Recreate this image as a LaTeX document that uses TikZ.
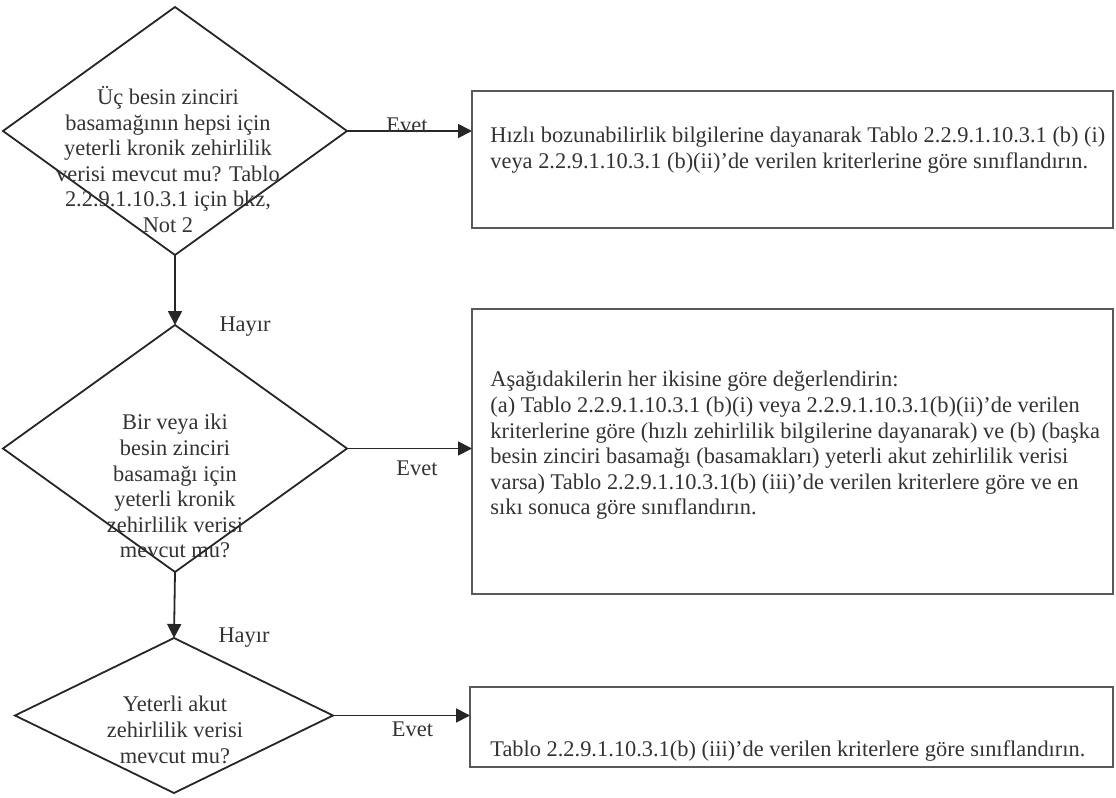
\documentclass[tikz,border=0pt]{standalone}
\usepackage{fontspec}
\setmainfont{Liberation Serif}
\usepackage{tikz}
\usetikzlibrary{arrows.meta}
\usetikzlibrary{positioning,shapes.geometric}
\tikzset{
    decision/.style={
        draw=black!85,
        diamond,
        line width=0.9pt,
        inner sep=0pt,
        outer sep=0pt
    },
    result/.style={
        draw=black!65,
        rectangle,
        line width=1.3pt,
        inner sep=0pt,
        outer sep=0pt
    },
    qtext/.style={align=center, inner sep=0pt},
    rtext/.style={align=left, inner sep=0pt},
    arr/.style={
        draw=black!85,
        -{Triangle[length=7pt, width=7pt]},
        line width=0.9pt
    }
}

\begin{document}
\begin{tikzpicture}[x=0.5pt, y=-0.5pt,
    every node/.style={font=\fontsize{11.2}{12.8}\selectfont, text=black!80}]
    \useasboundingbox (0,0) rectangle (1116,798);
    % Decisions
    \node[decision, minimum width=172pt, minimum height=124pt] (d1) at (175,131) {};
    \node[decision, minimum width=172pt, minimum height=123.5pt] (d2) at (175,448.5) {};
    \node[decision, minimum width=159pt, minimum height=77.5pt] (d3) at (174,715.5) {};
    \node[qtext, anchor=north] (q1) at (168,86) {Üç besin zinciri\\basamağının hepsi için\\yeterli kronik zehirlilik\\verisi mevcut mu? Tablo\\2.2.9.1.10.3.1 için bkz,\\Not 2};
    \node[qtext, anchor=north] (q2) at (175,414) {Bir veya iki\\besin zinciri\\basamağı için\\yeterli kronik\\zehirlilik verisi\\mevcut mu?};
    \node[qtext, anchor=north] (q3) at (175,696) {Yeterli akut\\zehirlilik verisi\\mevcut mu?};

    % Results
    \node[result, minimum width=320.5pt, minimum height=68.5pt] (b1) at (792.5,159.5) {};
    \node[result, minimum width=320.5pt, minimum height=142.5pt] (b2) at (792.5,451.5) {};
    \node[result, minimum width=321.5pt, minimum height=40pt] (b3) at (791.5,727) {};
    \node[rtext, anchor=north west] (r1) at (490,127) {Hızlı bozunabilirlik bilgilerine dayanarak Tablo 2.2.9.1.10.3.1 (b) (i)\\veya 2.2.9.1.10.3.1 (b)(ii)’de verilen kriterlerine göre sınıflandırın.};
    \node[rtext, anchor=north west] (r2) at (490,371) {Aşağıdakilerin her ikisine göre değerlendirin:\\(a) Tablo 2.2.9.1.10.3.1 (b)(i) veya 2.2.9.1.10.3.1(b)(ii)’de verilen\\kriterlerine göre (hızlı zehirlilik bilgilerine dayanarak) ve (b) (başka\\besin zinciri basamağı (basamakları) yeterli akut zehirlilik verisi\\varsa) Tablo 2.2.9.1.10.3.1(b) (iii)’de verilen kriterlere göre ve en\\sıkı sonuca göre sınıflandırın.};
    \node[rtext, anchor=base west] (r3) at (490,756) {Tablo 2.2.9.1.10.3.1(b) (iii)’de verilen kriterlere göre sınıflandırın.};

    % Connectors
    \draw[arr] (d1.east) to node[pos=.48, yshift=3pt] {Evet} (d1.east -| b1.west);
    \draw[arr] (d2.east) to node[pos=.56, yshift=-10pt] {Evet} (d2.east -| b2.west);
    \draw[arr] (d3.east) to node[pos=.58, yshift=-7pt] {Evet} (d3.east -| b3.west);
    \draw[arr] (d1.south) to node[pos=1, xshift=35pt, yshift=-1pt] {Hayır} (d2.north);
    \draw[arr] (d2.south) to node[pos=1, xshift=35pt, yshift=0pt] {Hayır} (d3.north);
\end{tikzpicture}
\end{document}
